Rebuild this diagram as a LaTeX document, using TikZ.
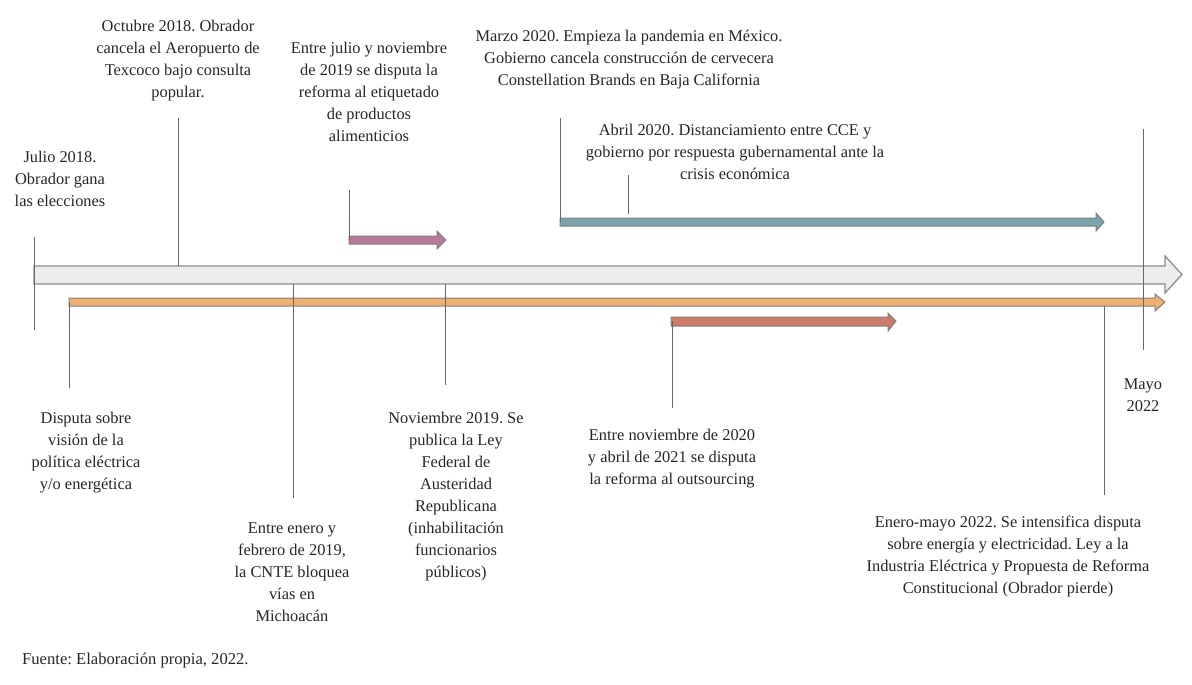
\documentclass[tikz,border=0pt]{standalone}
\usepackage{fontspec}
\setmainfont{Liberation Serif}
\definecolor{cOrange}{RGB}{238,176,112}
\definecolor{cPink}{RGB}{185,122,156}
\definecolor{cBlue}{RGB}{122,163,174}
\definecolor{cRed}{RGB}{205,124,106}
\begin{document}
\frenchspacing
\begin{tikzpicture}[x=1pt,y=-1pt,
  lbl/.style={align=center,inner sep=0pt,font=\fontsize{16.4}{22}\selectfont,text=black!85},
  tick/.style={draw=black!60,line width=1pt},
  bar/.style={draw=black!50,line width=1pt,line join=miter}]
\useasboundingbox (0,0) rectangle (1192,685);
% main grey arrow
\draw[bar,fill=black!7,draw=black!45,line width=1.3pt] (34,266) -- (1165,266) -- (1165,256) -- (1182,274.5) -- (1165,293) -- (1165,284) -- (34,284) -- cycle;
% orange
\draw[bar,fill=cOrange] (69,298) -- (1155,298) -- (1155,294) -- (1165,302) -- (1155,311) -- (1155,306) -- (69,306) -- cycle;
% pink
\draw[bar,fill=cPink] (349,236) -- (437,236) -- (437,231) -- (446,240) -- (437,249) -- (437,244) -- (349,244) -- cycle;
% blue
\draw[bar,fill=cBlue] (560,218) -- (1096,218) -- (1096,213) -- (1104,222) -- (1096,231) -- (1096,226) -- (560,226) -- cycle;
% red
\draw[bar,fill=cRed] (671,317) -- (888,317) -- (888,313) -- (896,321) -- (888,331) -- (888,326) -- (671,326) -- cycle;
% coordinates
\coordinate (jA) at (34,237); \coordinate (jB) at (34,330);
\coordinate (oA) at (178,118); \coordinate (oB) at (178,266);
\coordinate (eA) at (293,284); \coordinate (eB) at (293,498);
\coordinate (pA) at (349,190); \coordinate (pB) at (349,240);
\coordinate (nA) at (445,284); \coordinate (nB) at (445,385);
\coordinate (dA) at (69,302); \coordinate (dB) at (69,388);
\coordinate (bA) at (560,118); \coordinate (bB) at (560,222);
\coordinate (aA) at (628,175); \coordinate (aB) at (628,214);
\coordinate (rA) at (672,321); \coordinate (rB) at (672,408);
\coordinate (mA) at (1143,129); \coordinate (mB) at (1143,350);
\coordinate (yA) at (1104,306); \coordinate (yB) at (1104,495);
\foreach \a/\b in {jA/jB,oA/oB,eA/eB,pA/pB,nA/nB,dA/dB,bA/bB,aA/aB,rA/rB,mA/mB,yA/yB}
  \draw[tick] (\a) -- (\b);
% labels
\node[lbl] (julio) at (60,179) {Julio 2018.\\Obrador gana\\las elecciones};
\node[lbl] (oct) at (178,61) {Octubre 2018. Obrador\\cancela el Aeropuerto de\\Texcoco bajo consulta\\popular.};
\node[lbl] (etiq) at (369,92) {Entre julio y noviembre\\de 2019 se disputa la\\reforma al etiquetado\\de productos\\alimenticios};
\node[lbl] (marzo) at (629,60) {Marzo 2020. Empieza la pandemia en México.\\Gobierno cancela construcción de cervecera\\Constellation Brands en Baja California};
\node[lbl] (abril) at (735,152) {Abril 2020. Distanciamiento entre CCE y\\gobierno por respuesta gubernamental ante la\\crisis económica};
\node[lbl] (mayo) at (1143,395) {Mayo\\2022};
\node[lbl] (disp) at (86,453) {Disputa sobre\\visión de la\\política eléctrica\\y/o energética};
\node[lbl] (cnte) at (292,572) {Entre enero y\\febrero de 2019,\\la CNTE bloquea\\vías en\\Michoacán};
\node[lbl] (ley) at (456,497) {Noviembre 2019. Se\\publica la Ley\\Federal de\\Austeridad\\Republicana\\(inhabilitación\\funcionarios\\públicos)};
\node[lbl] (outs) at (672,459) {Entre noviembre de 2020\\y abril de 2021 se disputa\\la reforma al outsourcing};
\node[lbl] (ener) at (1008,556) {Enero-mayo 2022. Se intensifica disputa\\sobre energía y electricidad. Ley a la\\Industria Eléctrica y Propuesta de Reforma\\Constitucional (Obrador pierde)};
\node[lbl,anchor=west,font=\fontsize{16.6}{20}\selectfont] (fuente) at (22,660) {Fuente: Elaboración propia, 2022.};
\end{tikzpicture}
\end{document}
